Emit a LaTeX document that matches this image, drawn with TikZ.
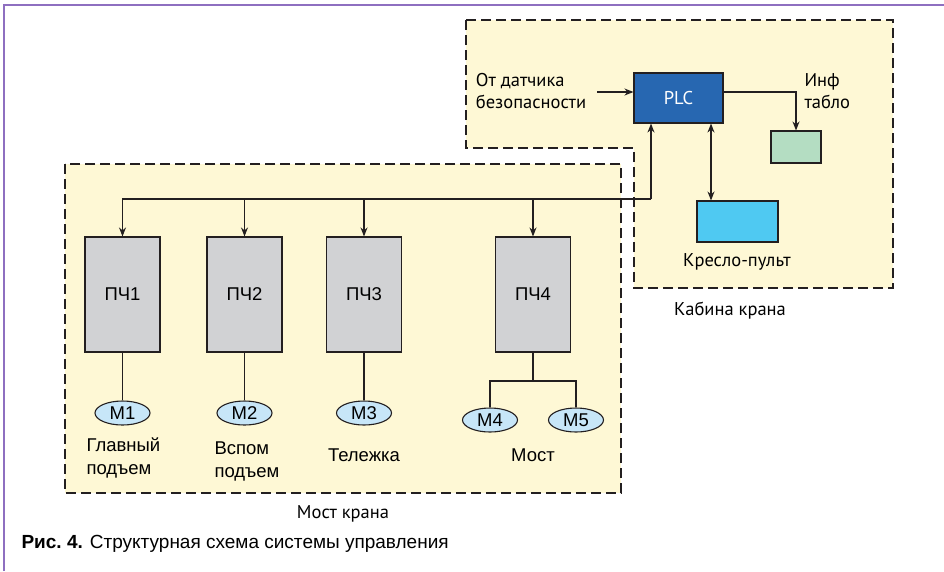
\documentclass[tikz,border=0pt]{standalone}
\usepackage{fontspec}
\setmainfont{PT Sans}
\newfontfamily\narrowfont{Liberation Sans}
\usetikzlibrary{shapes.geometric,arrows.meta}

\definecolor{zone}{HTML}{FEF8D5}
\definecolor{plcblue}{HTML}{2767B1}
\definecolor{tablo}{HTML}{B4DDC2}
\definecolor{pult}{HTML}{4FC9F2}
\definecolor{pch}{HTML}{D1D2D4}
\definecolor{motor}{HTML}{C7E6F8}
\definecolor{frame}{HTML}{8E6FC0}
\definecolor{ink}{HTML}{231F20}

\begin{document}
\begin{tikzpicture}
  [
    x=1pt, y=-1pt,
    font=\fontsize{18.5}{22}\selectfont,
    line width=1.1pt, draw=ink, >={Stealth[length=9pt,width=7pt]},
    zonebox/.style =
      {draw=ink, fill=zone, line width=1.2pt, dash pattern=on 10pt off 5pt},
    pchbox/.style =
      {draw=ink, fill=pch, minimum width=75pt, minimum height=115pt,
       font=\narrowfont\fontsize{18.5}{22}\selectfont},
    motorbox/.style =
      {draw=ink, fill=motor, ellipse, inner sep=0pt, minimum width=55pt,
       minimum height=24pt, font=\narrowfont\fontsize{18.5}{22}\selectfont},
    caption/.style =
      {font=\narrowfont\fontsize{18.5}{23}\selectfont, align=left, inner sep=0pt}
  ]
  \useasboundingbox (0,0) rectangle (944,571);
  \draw[frame, line width=2pt] (4,571) -- (4,5) -- (944,5);

  % zones
  \draw[zonebox] (466,20) -- (893,20) -- (893,288) -- (634,288)
    -- (634,148) -- (466,148) -- cycle;
  \draw[zonebox] (65,164) rectangle (621,493);

  % cabin
  \node [draw=ink, fill=plcblue, text=white, minimum width=89pt,
    minimum height=50pt] at (678.5,98) (plc) {PLC};
  \node [draw=ink, fill=tablo, minimum width=50pt, minimum height=32pt]
    at (796,147) (inf) {};
  \node [draw=ink, fill=pult, minimum width=81pt, minimum height=41pt]
    at (737.5,221.5) (kp) {};
  \node [align=left, inner sep=0pt] at (531,91) (src) {От датчика\\безопасности};
  \node [align=left, inner sep=0pt, anchor=west] at (804,91) (il) {Инф\\табло};
  \node [inner sep=0pt] at (737,262) (kl) {Кресло-пульт};
  \node [inner sep=0pt] at (730,311) (cl) {Кабина крана};

  % bridge
  \node [pchbox] at (122.5,294.5) (f1) {ПЧ1};
  \node [pchbox] at (244.5,294.5) (f2) {ПЧ2};
  \node [pchbox] at (364,294.5)   (f3) {ПЧ3};
  \node [pchbox] at (533,294.5)   (f4) {ПЧ4};
  \node [motorbox] at (122.5,413) (m1) {М1};
  \node [motorbox] at (244.5,413) (m2) {М2};
  \node [motorbox] at (364,413)   (m3) {М3};
  \node [motorbox] at (490,420)   (m4) {М4};
  \node [motorbox] at (576,420)   (m5) {М5};
  \node [caption, anchor=west] at (86,458)  (l1) {Главный\\подъем};
  \node [caption, anchor=west] at (214,461) (l2) {Вспом\\подъем};
  \node [caption] at (364,455) (l3) {Тележка};
  \node [caption] at (533,455) (l4) {Мост};
  \node [inner sep=0pt] at (343,514) (bl) {Мост крана};
  \node [caption, anchor=west, font=\narrowfont\fontsize{19}{23}\selectfont]
    at (21,544) (fig)
    {\textbf{Рис.\ 4.} Структурная схема системы управления};

  \coordinate (in)  at (597,92);
  \coordinate (bus) at (651,199);
  \coordinate (kc)  at (711,160);
  \coordinate (br)  at (533,381);

  \draw[->] (in) -- (in-|plc.west);
  \draw[->] (plc.east|-in) -| (inf.north);
  \draw[<->] (kc|-plc.south) -- (kc|-kp.north);
  \draw[->] (bus) -- (bus|-plc.south);
  \draw[->] (bus) -| (f1.north);
  \draw[->] (f2.north|-bus) -- (f2.north);
  \draw[->] (f3.north|-bus) -- (f3.north);
  \draw[->] (f4.north|-bus) -- (f4.north);
  \draw (f1.south) -- (m1.north);
  \draw (f2.south) -- (m2.north);
  \draw (f3.south) -- (m3.north);
  \draw (f4.south) -- (br);
  \draw (m4.north) |- (br) -| (m5.north);
\end{tikzpicture}
\end{document}
